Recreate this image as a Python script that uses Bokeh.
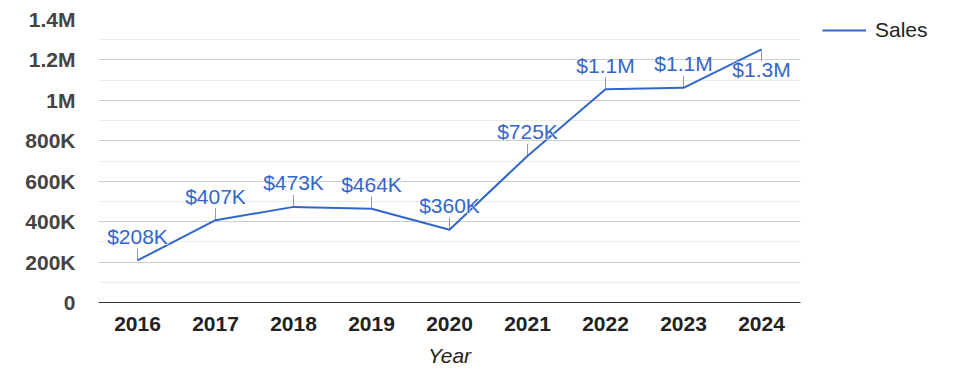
import math
from bokeh.plotting import figure
from bokeh.models import FactorRange, Range1d, FixedTicker, ColumnDataSource, Legend, LegendItem
from bokeh.core.properties import value
from bokeh.embed import file_html
from bokeh.resources import INLINE

years = ["2016", "2017", "2018", "2019", "2020", "2021", "2022", "2023", "2024"]
sales = [208000, 407000, 473000, 464000, 360000, 725000, 1055000, 1062000, 1252000]
sales_labels = ["$208K", "$407K", "$473K", "$464K", "$360K", "$725K", "$1.1M", "$1.1M", "$1.3M"]
y_ticks = [0, 200000, 400000, 600000, 800000, 1000000, 1200000, 1400000]
y_tick_labels = ["0", "200K", "400K", "600K", "800K", "1M", "1.2M", "1.4M"]
y_minor_ticks = [100000, 300000, 500000, 700000, 900000, 1100000, 1300000]

FONT = "Liberation Sans"
BLUE = "#3366cc"

p = figure(x_range=FactorRange(factors=years), y_range=Range1d(0, 1400000),
           frame_width=702, frame_height=283,
           min_border_left=98, min_border_right=160, min_border_top=19, min_border_bottom=58,
           output_backend="svg", toolbar_location=None)
p.outline_line_color = None
p.background_fill_color = "white"
p.border_fill_color = "white"

# grid
p.yaxis.ticker = FixedTicker(ticks=y_ticks, minor_ticks=y_minor_ticks)
p.ygrid.grid_line_color = "#cccccc"
p.ygrid.minor_grid_line_color = "#ebebeb"
p.xgrid.grid_line_color = None

# y axis
p.yaxis.major_label_overrides = {t: l for t, l in zip(y_ticks, y_tick_labels)}
p.yaxis.axis_line_color = None
p.yaxis.major_tick_line_color = None
p.yaxis.minor_tick_line_color = None
p.yaxis.major_tick_in = 0
p.yaxis.major_tick_out = 0
p.yaxis.major_label_standoff = 19
p.yaxis.major_label_text_font = FONT
p.yaxis.major_label_text_font_size = "21px"
p.yaxis.major_label_text_font_style = "bold"
p.yaxis.major_label_text_color = "#444444"

# x axis
p.xaxis.axis_line_color = "#333333"
p.xaxis.major_tick_line_color = None
p.xaxis.minor_tick_line_color = None
p.xaxis.major_tick_in = 0
p.xaxis.major_tick_out = 0
p.xaxis.major_label_standoff = 14
p.xaxis.major_label_text_font = FONT
p.xaxis.major_label_text_font_size = "21px"
p.xaxis.major_label_text_font_style = "bold"
p.xaxis.major_label_text_color = "#222222"
p.xaxis.axis_label = "Year"
p.xaxis.axis_label_text_font = FONT
p.xaxis.axis_label_text_font_size = "21px"
p.xaxis.axis_label_text_font_style = "italic"
p.xaxis.axis_label_text_color = "#222222"
p.xaxis.axis_label_standoff = 10

# annotation placement: labels near the top go below the point
above = [v < 1200000 for v in sales]
src = ColumnDataSource(dict(
    x=years, y=sales, label=sales_labels,
    angle=[math.pi / 2 if a else -math.pi / 2 for a in above],
    yoff=[-24 if a else 20 for a in above],
))

p.ray(x="x", y="y", length=12, length_units="screen", angle="angle",
      line_color="#999999", line_width=1, source=src)
sales_line = p.line(x="x", y="y", line_color=BLUE, line_width=2, source=src)
# white halo behind the annotation text
p.text(x="x", y="y", text="label", y_offset="yoff", source=src,
       text_align="center", text_baseline="alphabetic",
       text_font=value(FONT), text_font_size="21px", text_color="white",
       text_outline_color="white")
p.text(x="x", y="y", text="label", y_offset="yoff", source=src,
       text_align="center", text_baseline="alphabetic",
       text_font=value(FONT), text_font_size="21px", text_color=BLUE)

leg = Legend(items=[LegendItem(label="Sales", renderers=[sales_line])],
             location=(22, 260), orientation="vertical")
leg.padding = 0
leg.margin = 0
leg.spacing = 0
leg.border_line_color = None
leg.background_fill_alpha = 0
leg.glyph_width = 44
leg.glyph_height = 24
leg.label_height = 24
leg.label_standoff = 9
leg.label_text_font = FONT
leg.label_text_font_size = "21px"
leg.label_text_color = "#222222"
p.add_layout(leg, "right")

open("out.html", "w").write(file_html(p, INLINE))
